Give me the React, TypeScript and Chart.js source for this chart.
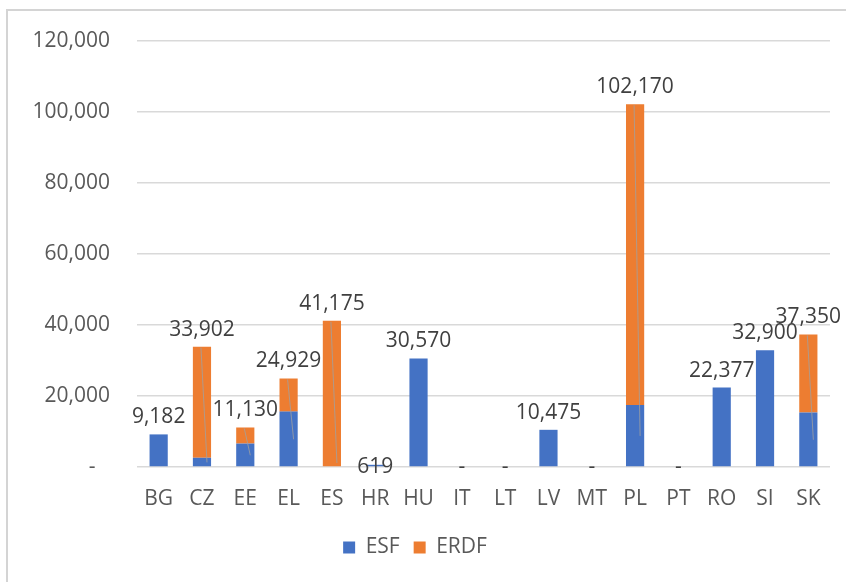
import React, { useEffect, useRef } from "react";
import { Chart, registerables } from "chart.js";

Chart.register(...registerables);

const categories = ["BG", "CZ", "EE", "EL", "ES", "HR", "HU", "IT", "LT", "LV", "MT", "PL", "PT", "RO", "SI", "SK"];
const esfValues = [9182, 2600, 6600, 15600, 0, 619, 30570, 0, 0, 10475, 0, 17500, 0, 22377, 32900, 15340];
const erdfValues = [0, 31302, 4530, 9329, 41175, 0, 0, 0, 0, 0, 0, 84670, 0, 0, 0, 22010];
const yTicks = [0, 20000, 40000, 60000, 80000, 100000, 120000];

const FONT = "'Open Sans', 'Noto Sans', sans-serif";
const fmt = (v: number) => (v === 0 ? "-" : v.toLocaleString("en-US"));

const totalsPlugin = {
  id: "totals",
  beforeDraw(chart: any) {
    const ctx = chart.ctx;
    ctx.save();
    ctx.strokeStyle = "#d4d4d4";
    ctx.lineWidth = 2;
    ctx.strokeRect(7, 10, 1000, 1000);
    ctx.restore();
  },
  afterDatasetsDraw(chart: any) {
    const ctx = chart.ctx;
    const x = chart.scales.x;
    const y = chart.scales.y;
    const base = y.getPixelForValue(0);
    ctx.save();
    // leader lines
    ctx.strokeStyle = "rgba(160,160,160,0.8)";
    ctx.lineWidth = 1;
    categories.forEach((_, i) => {
      if (erdfValues[i] > 0) {
        const cx = x.getPixelForValue(i);
        const total = esfValues[i] + erdfValues[i];
        const top = y.getPixelForValue(total);
        const esfTop = y.getPixelForValue(esfValues[i]);
        const endY = Math.min((base + esfTop) / 2, base - 4);
        ctx.beginPath();
        ctx.moveTo(cx - 1, top + 1);
        ctx.lineTo(cx + 5, endY);
        ctx.stroke();
      }
    });
    ctx.fillStyle = "#404040";
    ctx.font = `21px ${FONT}`;
    ctx.textAlign = "center";
    ctx.textBaseline = "middle";
    categories.forEach((_, i) => {
      const cx = x.getPixelForValue(i);
      const total = esfValues[i] + erdfValues[i];
      const top = y.getPixelForValue(total);
      const ly = total < 1000 ? base : top - 17;
      ctx.fillText(fmt(total), cx, ly);
    });
    ctx.restore();
  },
};

export default function App() {
  const ref = useRef<HTMLCanvasElement>(null);
  useEffect(() => {
    document.body.style.margin = "0";
    const chart = new Chart(ref.current as HTMLCanvasElement, {
      type: "bar",
      data: {
        labels: categories,
        datasets: [
          { label: "ESF", data: esfValues, backgroundColor: "#4472C4", barPercentage: 0.42, categoryPercentage: 1 },
          { label: "ERDF", data: erdfValues, backgroundColor: "#ED7D31", barPercentage: 0.42, categoryPercentage: 1 },
        ],
      },
      options: {
        animation: false,
        responsive: false,
        layout: { padding: { left: 0, right: 16, top: 41, bottom: 14 } },
        scales: {
          x: {
            stacked: true,
            grid: { display: false, drawTicks: false },
            border: { display: false },
            afterFit: (s: any) => {
              s.height = 56;
            },
            ticks: { color: "#595959", font: { family: FONT, size: 21 }, padding: 19 },
          },
          y: {
            stacked: true,
            min: 0,
            max: 120000,
            afterBuildTicks: (s: any) => {
              s.ticks = yTicks.map((v) => ({ value: v }));
            },
            afterFit: (s: any) => {
              s.width = 137;
            },
            grid: { color: "#d9d9d9", lineWidth: 1.5, drawTicks: false },
            border: { display: false },
            ticks: {
              color: "#595959",
              font: { family: FONT, size: 21 },
              padding: 27,
              callback: (v: any) => (Number(v) === 0 ? "-  \u2009" : Number(v).toLocaleString("en-US")),
            },
          },
        },
        plugins: {
          legend: {
            position: "bottom",
            labels: {
              color: "#595959",
              font: { family: FONT, size: 21 },
              boxWidth: 12,
              boxHeight: 12,
              padding: 14,
            },
          },
          tooltip: { enabled: false },
        },
      },
      plugins: [totalsPlugin],
    });
    return () => chart.destroy();
  }, []);
  return (
    <div style={{ width: 846, height: 582, overflow: "hidden", background: "#fff" }}>
      <canvas ref={ref} width={846} height={582} style={{ width: 846, height: 582, display: "block" }} />
    </div>
  );
}
